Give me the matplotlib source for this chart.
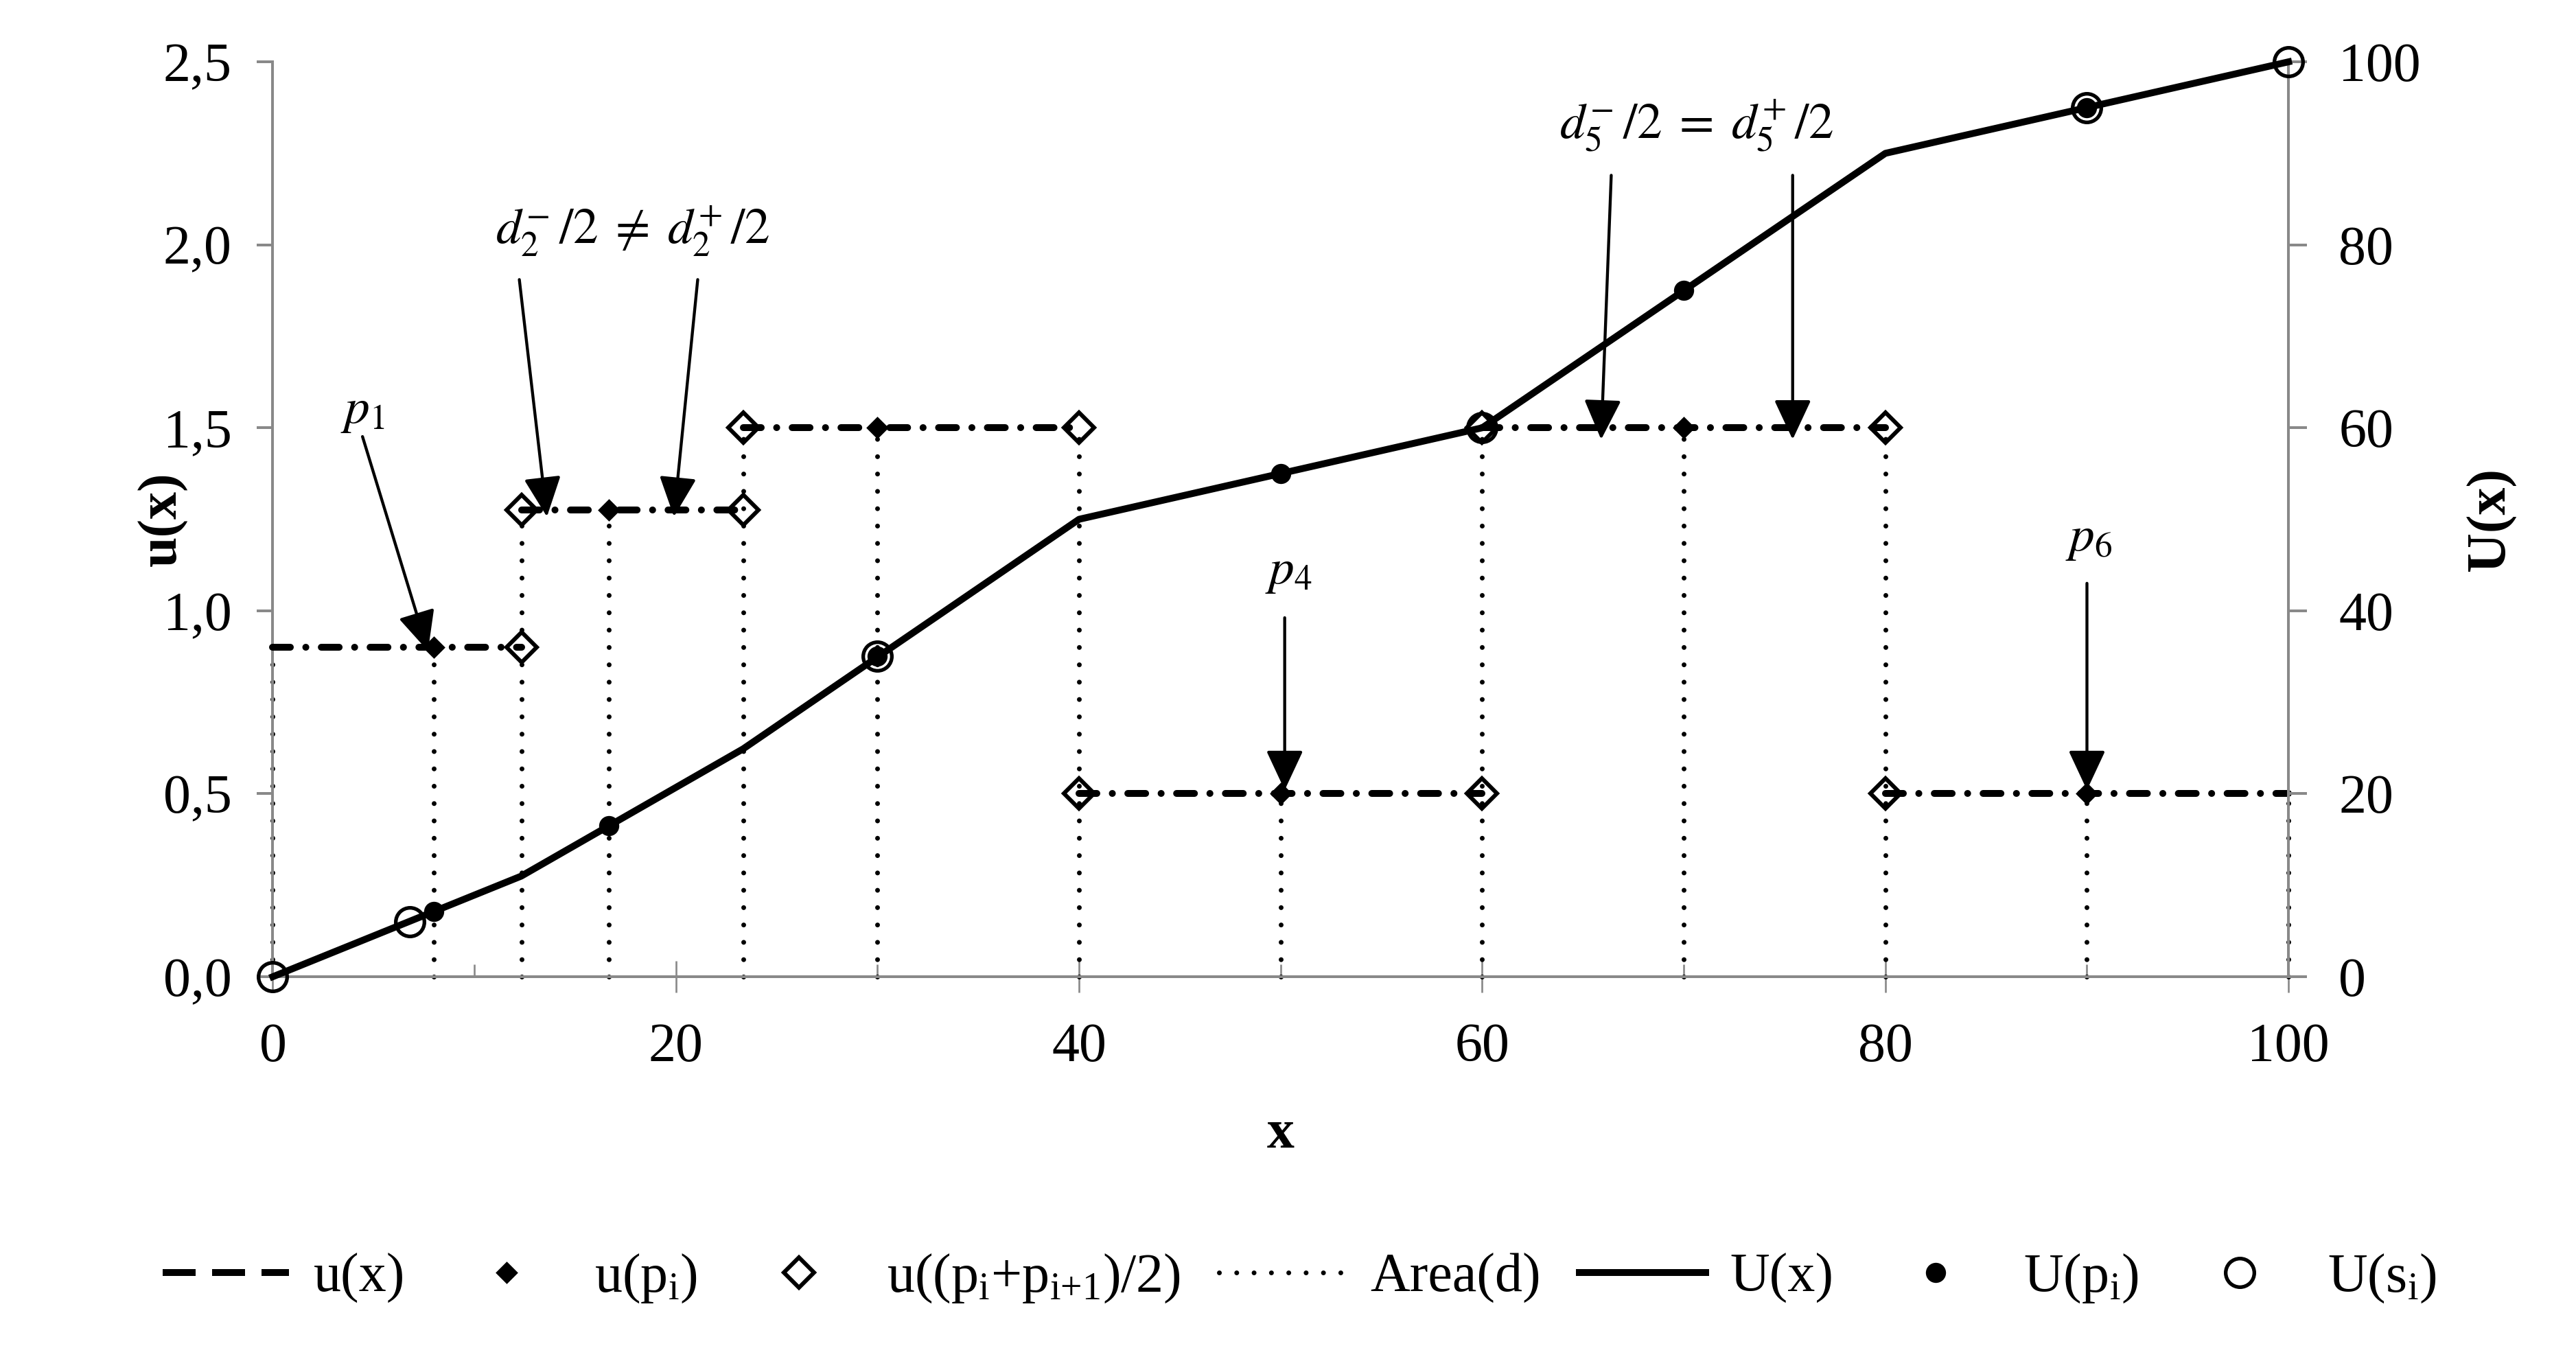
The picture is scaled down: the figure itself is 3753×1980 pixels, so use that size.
import matplotlib.pyplot as plt
from matplotlib.lines import Line2D

plt.rcParams['font.family'] = ['Liberation Serif', 'DejaVu Serif']
plt.rcParams['mathtext.fontset'] = 'stix'

# u(x): step function, level between consecutive edges
u_edges = [0, 12.33, 23.33, 40, 60, 80, 100]
u_levels = [0.9, 1.275, 1.5, 0.5, 1.5, 0.5]

# u(p_i)
p_x = [8, 16.67, 30, 50, 70, 90]
u_p = [0.9, 1.275, 1.5, 0.5, 1.5, 0.5]

# u((p_i + p_i+1)/2)
mid_x = [12.33, 12.33, 23.33, 23.33, 40, 40, 60, 60, 80, 80]
mid_u = [0.9, 1.275, 1.275, 1.5, 1.5, 0.5, 0.5, 1.5, 1.5, 0.5]

# Area(d) vertical dotted lines
area_x = [0, 8, 12.33, 16.67, 23.33, 30, 40, 50, 60, 70, 80, 90, 100]
area_top = [0.9, 0.9, 1.275, 1.275, 1.5, 1.5, 1.5, 0.5, 1.5, 1.5, 1.5, 0.5, 0.5]

# U(x) (right axis)
U_x = [0, 12.33, 23.33, 40, 60, 80, 100]
U_y = [0, 11.0, 24.9, 50, 60, 90, 100]
Up_y = [7.1, 16.5, 35.0, 55.0, 75.0, 95.0]
s_x = [0, 6.8, 30, 60, 90, 100]
Us_y = [0, 6.0, 35.0, 60, 95, 100]

left_ticks = [0, 0.5, 1.0, 1.5, 2.0, 2.5]
left_labels = ['0,0', '0,5', '1,0', '1,5', '2,0', '2,5']
right_ticks = [0, 20, 40, 60, 80, 100]
x_ticks = [0, 20, 40, 60, 80, 100]
x_minor = [10, 30, 50, 70, 90]

GRAY = '#898989'
FS = 24
DOT = (0, (0.01, 3.6))

fig = plt.figure(figsize=(3753 / 240, 1980 / 240), dpi=240)
ax = fig.add_axes([0.1059, 0.2813, 0.7825, 0.6732])
ax2 = ax.twinx()

# dotted area lines
for x, top in zip(area_x, area_top):
    ax.plot([x, x], [0, top], color='black', lw=2.1, linestyle=DOT,
            dash_capstyle='round', zorder=2, clip_on=False)

# step segments
for i, lev in enumerate(u_levels):
    ax.plot([u_edges[i], u_edges[i + 1]], [lev, lev], color='black', lw=3,
            dashes=[2.6, 2.25, 0.01, 2.25], dash_capstyle='round', zorder=3,
            clip_on=False)

h_mid, = ax.plot(mid_x, mid_u, linestyle='none', marker='D', ms=9.5, mfc='none',
                 mec='black', mew=1.8, zorder=4, clip_on=False)
h_up, = ax.plot(p_x, u_p, linestyle='none', marker='D', ms=6, color='black',
                zorder=5, clip_on=False)

h_U, = ax2.plot(U_x, U_y, color='black', lw=3, zorder=3, clip_on=False)
h_Up, = ax2.plot(p_x, Up_y, linestyle='none', marker='o', ms=8.8, mew=0,
                 color='black', zorder=4, clip_on=False)
h_Us, = ax2.plot(s_x, Us_y, linestyle='none', marker='o', ms=12.5, mfc='none',
                 mec='black', mew=1.6, zorder=5, clip_on=False)

# axes limits and ticks
ax.set_xlim(0, 100)
ax.set_ylim(0, 2.5)
ax2.set_ylim(0, 100)
ax.set_xticks(x_ticks)
ax.set_xticks(x_minor, minor=True)
ax.set_yticks(left_ticks)
ax.set_yticklabels(left_labels)
ax2.set_yticks(right_ticks)

for s in ['top', 'right']:
    ax.spines[s].set_visible(False)
for s in ['top', 'left', 'bottom']:
    ax2.spines[s].set_visible(False)
for s in ['left', 'bottom']:
    ax.spines[s].set_color(GRAY)
    ax.spines[s].set_linewidth(1.2)
ax2.spines['right'].set_color(GRAY)
ax2.spines['right'].set_linewidth(1.2)

ax.tick_params(axis='y', direction='out', length=7, width=1.2, color=GRAY,
               labelsize=FS, pad=11)
ax.tick_params(axis='x', which='major', direction='inout', length=14, width=0.8,
               color=GRAY, labelsize=FS, pad=13)
ax.tick_params(axis='x', which='minor', direction='in', length=5.5, width=0.8,
               color=GRAY)
ax2.tick_params(axis='y', direction='out', length=8, width=1.2, color=GRAY,
                labelsize=FS, pad=14)

ax.set_xlabel('x', fontsize=FS, fontweight='bold')
ax.xaxis.set_label_coords(0.5, -0.145)
ax.set_ylabel('u(x)', fontsize=FS, fontweight='bold')
ax.yaxis.set_label_coords(-0.042, 0.5)
ax2.set_ylabel('U(x)', fontsize=FS, fontweight='bold')
ax2.yaxis.set_label_coords(1.088, 0.5)

# annotations
arrow_kw = dict(arrowstyle='-|>,head_length=1.5,head_width=0.7', mutation_scale=10,
                lw=1.3, color='black', shrinkA=0, shrinkB=0)
ann_fs = 22

ax.text(4.45, 1.545, r'$p_1$', fontsize=ann_fs, ha='center', va='center')
ax.annotate('', xy=(7.7, 0.89), xytext=(4.45, 1.476), arrowprops=arrow_kw)

ax.text(17.85, 2.037, r'$d_2^{-}\,/2\;\neq\;d_2^{+}\,/2$', fontsize=ann_fs,
        ha='center', va='center')
ax.annotate('', xy=(13.6, 1.257), xytext=(12.23, 1.905), arrowprops=arrow_kw)
ax.annotate('', xy=(19.9, 1.257), xytext=(21.08, 1.905), arrowprops=arrow_kw)

ax.text(70.63, 2.327, r'$d_5^{-}\,/2\;=\;d_5^{+}\,/2$', fontsize=ann_fs,
        ha='center', va='center')
ax.annotate('', xy=(65.9, 1.468), xytext=(66.4, 2.19), arrowprops=arrow_kw)
ax.annotate('', xy=(75.4, 1.468), xytext=(75.4, 2.19), arrowprops=arrow_kw)

ax.text(50.38, 1.106, r'$p_4$', fontsize=ann_fs, ha='center', va='center')
ax.annotate('', xy=(50.2, 0.51), xytext=(50.2, 0.981), arrowprops=arrow_kw)

ax.text(90.1, 1.196, r'$p_6$', fontsize=ann_fs, ha='center', va='center')
ax.annotate('', xy=(90.0, 0.51), xytext=(90.0, 1.075), arrowprops=arrow_kw)

# legend
h_u = Line2D([], [], color='black', lw=3, dashes=[4.8, 2.4])
h_area = Line2D([], [], color='black', lw=2.1, linestyle=DOT,
                dash_capstyle='round')
handles = [h_u, h_up, h_mid, h_area, h_U, h_Up, h_Us]
labels = ['u(x)', r'u($\mathregular{p_i}$)',
          r'u(($\mathregular{p_i}$+$\mathregular{p_{i{+}1}}$)/2)', 'Area(d)',
          'U(x)', r'U($\mathregular{p_i}$)', r'U($\mathregular{s_i}$)']
fig.legend(handles, labels, loc='center', bbox_to_anchor=(0.5045, 0.0593),
           ncol=7, frameon=False, fontsize=FS, handlelength=2.3,
           handletextpad=0.45, columnspacing=0.7, numpoints=1)

fig.savefig('out.png', dpi=240)
